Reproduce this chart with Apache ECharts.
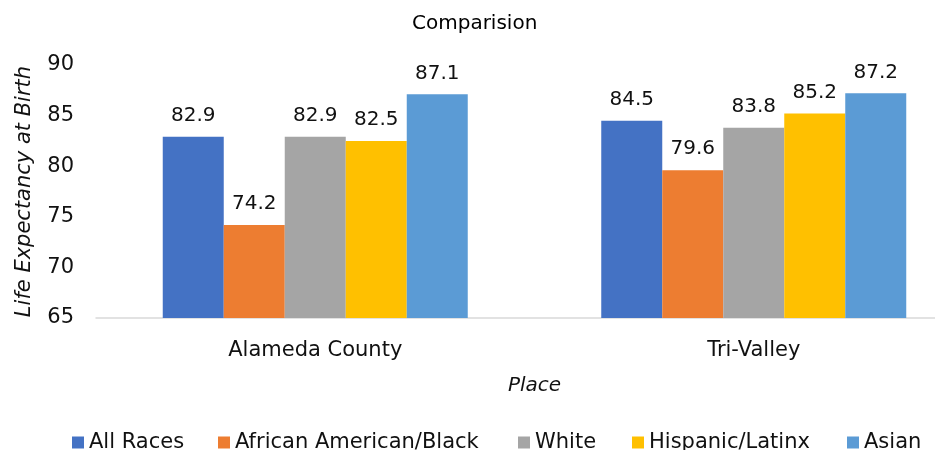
<!DOCTYPE html>
<html><head><meta charset="utf-8">
<script src="https://cdn.jsdelivr.net/npm/echarts@6/dist/echarts.min.js"></script>
<style>html,body{margin:0;padding:0;background:#fff;overflow:hidden;width:935px;height:450px}#c{width:973px;height:450px}</style>
</head><body><div id="c"></div>
<script>
const categories = ['Alameda County', 'Tri-Valley'];
const seriesNames = ['All Races', 'African American/Black', 'White', 'Hispanic/Latinx', 'Asian'];
const allRaces = [82.9, 84.5];
const africanAmerican = [74.2, 79.6];
const white = [82.9, 83.8];
const hispanic = [82.5, 85.2];
const asian = [87.1, 87.2];
const colors = ['#4472C4', '#ED7D31', '#A5A5A5', '#FFC000', '#5B9BD5'];
const legendLeft = [67, 213, 513, 627, 842];
const FONT = 'DejaVu Sans';
const TXT = '#111111';
const values = [allRaces, africanAmerican, white, hispanic, asian];
const chart = echarts.init(document.getElementById('c'));
chart.setOption({
  animation: false,
  title: { text: 'Comparision', left: 407, top: 9, textStyle: { fontFamily: FONT, fontSize: 20, fontWeight: 'normal', color: '#000' } },
  grid: { left: 96, right: 0, top: 65, bottom: 132 },
  legend: seriesNames.map((n, i) => ({
    top: 427, left: legendLeft[i], itemWidth: 12, itemHeight: 12, icon: 'rect',
    textStyle: { fontFamily: FONT, fontSize: 21, color: TXT },
    data: [n]
  })),
  xAxis: {
    type: 'category', data: categories,
    axisLine: { lineStyle: { color: '#d9d9d9', width: 1.5 } }, axisTick: { show: false },
    axisLabel: { fontFamily: FONT, fontSize: 21, color: TXT, margin: 22 },
    name: 'Place', nameLocation: 'middle', nameGap: 58,
    nameTextStyle: { fontFamily: FONT, fontSize: 20, fontStyle: 'italic', color: TXT }
  },
  yAxis: {
    type: 'value', min: 65, max: 90, interval: 5,
    splitLine: { show: false }, axisLine: { show: false }, axisTick: { show: false },
    axisLabel: { fontFamily: FONT, fontSize: 21, color: TXT, margin: 22 },
    name: 'Life Expectancy at Birth', nameLocation: 'middle', nameGap: 61,
    nameTextStyle: { fontFamily: FONT, fontSize: 21, fontStyle: 'italic', color: TXT }
  },
  series: seriesNames.map((n, i) => ({
    name: n, type: 'bar', data: values[i], barWidth: 61, barGap: '0%',
    itemStyle: { color: colors[i] },
    label: { show: true, position: 'top', distance: 11, fontFamily: FONT, fontSize: 20, color: TXT }
  }))
});
</script></body></html>
